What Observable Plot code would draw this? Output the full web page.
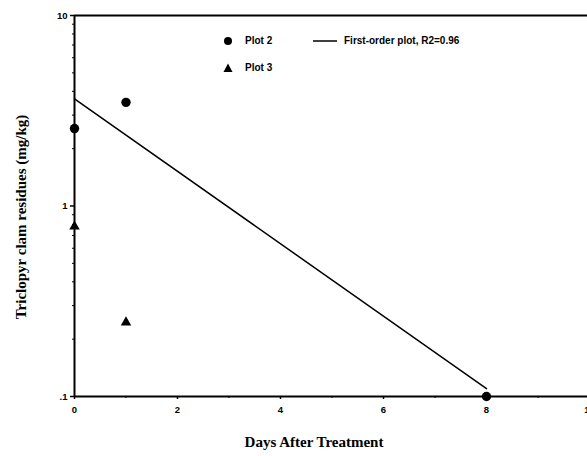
<!DOCTYPE html>
<html>
<head>
<meta charset="utf-8">
<script src="https://cdn.jsdelivr.net/npm/d3@7"></script>
<script src="https://cdn.jsdelivr.net/npm/@observablehq/plot@0.6"></script>
<style>
  body { margin: 0; background: #fff; }
  #wrap { position: relative; width: 587px; height: 456px; }
  .leg { position: absolute; font: bold 10px "Liberation Sans", Arial, sans-serif; color: #000; white-space: nowrap; line-height: 10px; }
  .leg svg { position: absolute; }
</style>
</head>
<body>
<div id="wrap"></div>
<script>
const plot2Days = [0, 1, 8];
const plot2Res = [2.55, 3.5, 0.1];
const plot3Days = [0, 1];
const plot3Res = [0.78, 0.245];
const fitDays = [0, 8];
const fitRes = [3.65, 0.11];
const xTicks = [0, 2, 4, 6, 8, 10];
const xMinor = [1, 3, 5, 7, 9];
const yTicks = [0.1, 1, 10];
const yTickLabels = [".1", "1", "10"];
const yMinor = [0.2,0.3,0.4,0.5,0.6,0.7,0.8,0.9,2,3,4,5,6,7,8,9];
const xTitle = "Days After Treatment";
const yTitle = "Triclopyr clam residues (mg/kg)";
const legendItems = [
  {label: "Plot 2", sym: "circle", left: 223, top: 36},
  {label: "Plot 3", sym: "triangle", left: 223, top: 63},
  {label: "First-order plot, R2=0.96", sym: "line", left: 313, top: 36}
];

const p2 = plot2Days.map((d, i) => ({d, r: plot2Res[i]}));
const p3 = plot3Days.map((d, i) => ({d, r: plot3Res[i]}));
const fit = fitDays.map((d, i) => ({d, r: fitRes[i]}));

const font = {fontFamily: "Liberation Sans, Arial, sans-serif", fontSize: 9.5, fontWeight: "bold"};
const serif = {fontFamily: "Liberation Serif, Times New Roman, serif", fontSize: 15, fontWeight: "bold"};

const chart = Plot.plot({
  width: 587,
  height: 456,
  marginLeft: 74,
  marginTop: 15,
  marginBottom: 60,
  marginRight: 0,
  x: {domain: [0, 10], range: [74, 589]},
  y: {type: "log", domain: [0.1, 10], range: [396, 15]},
  marks: [
    Plot.axisX(xTicks, {tickSize: 3, strokeWidth: 1.5, tickPadding: 7, label: null, ...font}),
    Plot.axisX(xMinor, {tickSize: 2, text: null, label: null}),
    Plot.axisY(yTicks, {tickSize: 4, strokeWidth: 1.5, tickPadding: 3, label: null,
      tickFormat: d => yTickLabels[yTicks.indexOf(d)], ...font}),
    Plot.axisY(yMinor, {tickSize: 2, text: null, label: null}),
    Plot.ruleX([0], {strokeWidth: 2}),
    Plot.ruleY([0.1, 10], {strokeWidth: 2}),
    Plot.line(fit, {x: "d", y: "r", stroke: "black", strokeWidth: 1.5}),
    Plot.dot(p2, {x: "d", y: "r", r: 4.7, fill: "black", symbol: "circle"}),
    Plot.dot(p3, {x: "d", y: "r", r: 5, fill: "black", symbol: "triangle2"}),
    Plot.text([xTitle], {frameAnchor: "bottom", dx: -17, dy: 50, text: d => d, ...serif}),
    Plot.text([yTitle], {frameAnchor: "left", textAnchor: "middle", rotate: -90, dx: -53, dy: 11, text: d => d, ...serif})
  ]
});
chart.style.overflow = "visible";
const wrap = document.getElementById("wrap");
wrap.appendChild(chart);

for (const it of legendItems) {
  const div = document.createElement("div");
  div.className = "leg";
  div.style.left = it.left + "px";
  div.style.top = it.top + "px";
  let sym;
  if (it.sym === "circle") sym = '<svg width="10" height="10" style="left:0;top:0"><circle cx="5" cy="5" r="4" fill="black"/></svg>';
  else if (it.sym === "triangle") sym = '<svg width="10" height="10" style="left:0;top:0"><path d="M5,0.5L9.5,9L0.5,9Z" fill="black"/></svg>';
  else sym = '<svg width="26" height="10" style="left:0;top:0"><line x1="0" x2="24" y1="5" y2="5" stroke="black" stroke-width="1.5"/></svg>';
  const pad = it.sym === "line" ? 31 : 22;
  div.innerHTML = sym + '<span style="position:absolute;left:' + pad + 'px;top:0">' + it.label + '</span>';
  wrap.appendChild(div);
}
</script>
</body>
</html>
